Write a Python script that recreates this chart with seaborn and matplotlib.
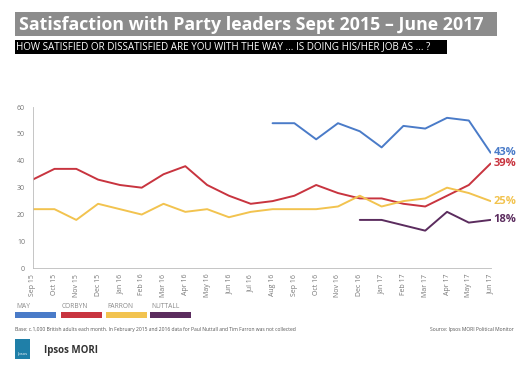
import matplotlib
matplotlib.use("Agg")
import matplotlib.pyplot as plt
from matplotlib.patches import Rectangle
import seaborn as sns
import numpy as np
import pandas as pd

months = ["Sep 15", "Oct 15", "Nov 15", "Dec 15", "Jan 16", "Feb 16", "Mar 16", "Apr 16",
          "May 16", "Jun 16", "Jul 16", "Aug 16", "Sep 16", "Oct 16", "Nov 16", "Dec 16",
          "Jan 17", "Feb 17", "Mar 17", "Apr 17", "May 17", "Jun 17"]
nan = np.nan
may = [nan] * 11 + [54, 54, 48, 54, 51, 45, 53, 52, 56, 55, 43]
corbyn = [33, 37, 37, 33, 31, 30, 35, 38, 31, 27, 24, 25, 27, 31, 28, 26, 26, 24, 23, 27, 31, 39]
farron = [22, 22, 18, 24, 22, 20, 24, 21, 22, 19, 21, 22, 22, 22, 23, 27, 23, 25, 26, 30, 28, 25]
nuttall = [nan] * 15 + [18, 18, 16, 14, 21, 17, 18]

leaders = ["MAY", "CORBYN", "FARRON", "NUTTALL"]
colors = ["#4a7bc8", "#c8343f", "#f2c34f", "#5b2c5e"]
end_labels = ["43%", "39%", "25%", "18%"]

df = pd.DataFrame({"month": range(len(months)), "MAY": may, "CORBYN": corbyn,
                   "FARRON": farron, "NUTTALL": nuttall})
long = df.melt(id_vars="month", var_name="leader", value_name="score").dropna()

sns.set_style("white")
plt.rcParams["font.family"] = ["Open Sans", "DejaVu Sans"]

fig = plt.figure(figsize=(5.27, 3.68), dpi=100)
ax = fig.add_axes([0.062, 0.271, 0.869, 0.438])

sns.lineplot(data=long, x="month", y="score", hue="leader", hue_order=leaders,
             palette=dict(zip(leaders, colors)), linewidth=1.4, legend=False, ax=ax)

ax.set_xlim(0, len(months) - 1)
ax.set_ylim(0, 60)
ax.set_yticks(range(0, 61, 10))
ax.set_xticks(range(len(months)))
ax.set_xticklabels(months, rotation=90, fontsize=5, color="#777777")
ax.tick_params(axis="y", labelsize=5, colors="#777777", length=2, width=0.5)
ax.tick_params(axis="x", length=2, width=0.5, colors="#bbbbbb", labelcolor="#777777", pad=2)
ax.set_xlabel("")
ax.set_ylabel("")
for s in ["top", "right"]:
    ax.spines[s].set_visible(False)
for s in ["left", "bottom"]:
    ax.spines[s].set_color("#bbbbbb")
    ax.spines[s].set_linewidth(0.6)

# end-of-line value labels
series = [may, corbyn, farron, nuttall]
for vals, col, lab in zip(series, colors, end_labels):
    ax.annotate(lab, (len(months) - 1, vals[-1]), xytext=(2, 0), textcoords="offset points",
                color=col, fontsize=8, fontweight="bold", va="center", ha="left",
                annotation_clip=False)

# title block
W, H = 527, 368
fig.patches.append(Rectangle((15 / W, 1 - 36 / H), 482 / W, 24 / H, transform=fig.transFigure,
                             facecolor="#8c8c8c", edgecolor="none"))
fig.text(19 / W, 1 - 24.5 / H, "Satisfaction with Party leaders Sept 2015 – June 2017",
         color="white", fontsize=12.8, fontweight="bold", va="center", ha="left")
fig.patches.append(Rectangle((15 / W, 1 - 54 / H), 432 / W, 14 / H, transform=fig.transFigure,
                             facecolor="black", edgecolor="none"))
fig.text(16 / W, 1 - 47 / H,
         "HOW SATISFIED OR DISSATISFIED ARE YOU WITH THE WAY ... IS DOING HIS/HER JOB AS ... ?",
         color="white", fontsize=7.1, va="center", ha="left")

# legend
leg_x = [15, 61, 106, 150]
for x0, col, lab in zip(leg_x, colors, leaders):
    fig.patches.append(Rectangle((x0 / W, 1 - 318 / H), 41 / W, 6 / H, transform=fig.transFigure,
                                 facecolor=col, edgecolor="none"))
    fig.text((x0 + 1) / W, 1 - 306 / H, lab, color="#8a8a8a", fontsize=4.8, va="center", ha="left")

# footer
fig.text(15 / W, 1 - 330 / H,
         "Base: c.1,000 British adults each month. In February 2015 and 2016 data for Paul Nuttall and Tim Farron was not collected",
         color="#555555", fontsize=3.6, va="center", ha="left")
fig.text(514 / W, 1 - 330 / H, "Source: Ipsos MORI Political Monitor",
         color="#555555", fontsize=3.6, va="center", ha="right")
fig.patches.append(Rectangle((15 / W, 1 - 359 / H), 15 / W, 20 / H, transform=fig.transFigure,
                             facecolor="#1f7fa8", edgecolor="none"))
fig.text(22.5 / W, 1 - 354 / H, "Ipsos", color="white", fontsize=3, va="center", ha="center")
fig.text(44 / W, 1 - 350 / H, "Ipsos MORI", color="#333333", fontsize=7, fontweight="bold",
         va="center", ha="left")

fig.savefig("out.png", dpi=100)
